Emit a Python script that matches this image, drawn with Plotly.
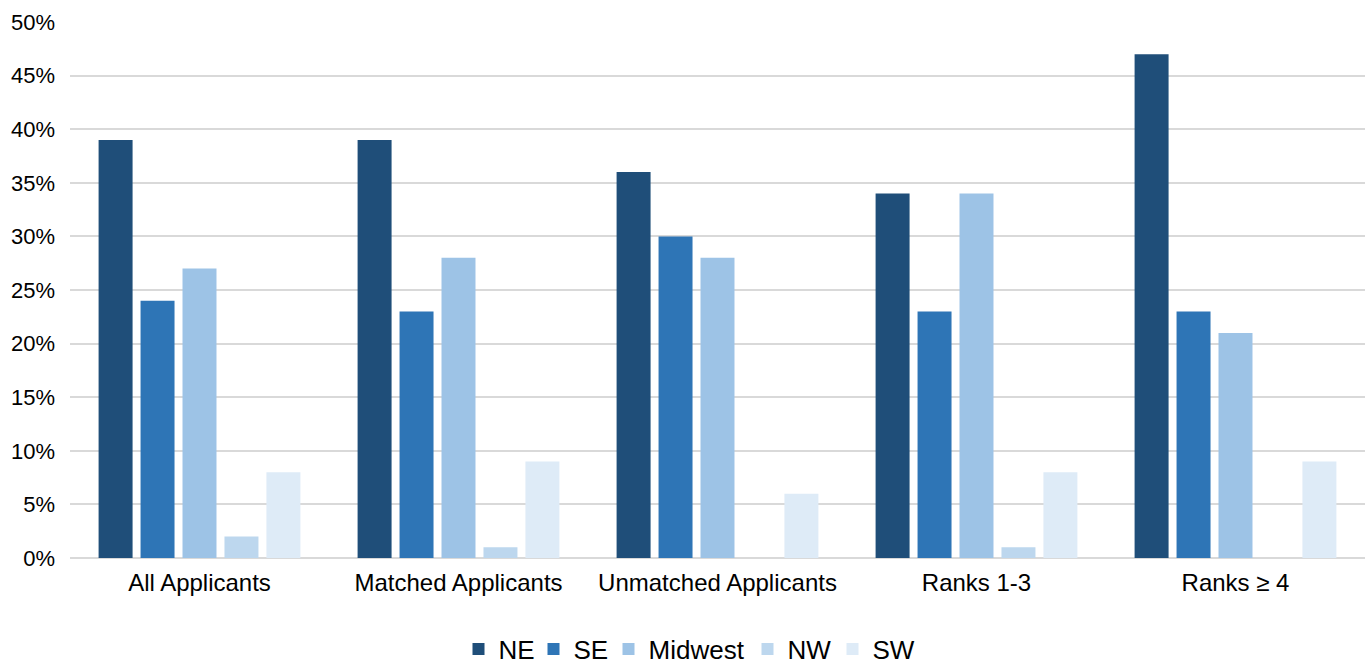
import plotly.graph_objects as go

categories = ["All Applicants", "Matched Applicants", "Unmatched Applicants", "Ranks 1-3", "Ranks ≥ 4"]
ne = [0.39, 0.39, 0.36, 0.34, 0.47]
se = [0.24, 0.23, 0.30, 0.23, 0.23]
midwest = [0.27, 0.28, 0.28, 0.34, 0.21]
nw = [0.02, 0.01, 0.00, 0.01, 0.00]
sw = [0.08, 0.09, 0.06, 0.08, 0.09]

# name, values, colour, legend entry width (px)
series = [
    ("NE", ne, "#1F4E79", 30),
    ("SE", se, "#2E75B6", 30),
    ("Midwest", midwest, "#9DC3E6", 94),
    ("NW", nw, "#BDD7EE", 40),
    ("SW", sw, "#DEEBF7", 44),
]

fig = go.Figure()
for name, vals, color, lw in series:
    fig.add_trace(go.Bar(x=categories, y=vals, name=name, marker_color=color,
                         marker_line_width=0, legendwidth=lw))

W, H = 1370, 665
plot_left, plot_right = 70, 1365
plot_top, plot_bottom = 22, 558
plot_w = plot_right - plot_left
plot_h = plot_bottom - plot_top

font_family = "Liberation Sans, Arial, sans-serif"
fig.update_layout(
    width=W, height=H,
    margin=dict(l=plot_left, r=W - plot_right, t=plot_top, b=H - plot_bottom,
                autoexpand=False),
    plot_bgcolor="white", paper_bgcolor="white",
    barmode="group", bargap=0.19, bargroupgap=0.19,
    font=dict(family=font_family, color="#000000", size=22),
    showlegend=True,
    legend=dict(orientation="h", x=(690 - plot_left) / plot_w, xanchor="center",
                y=-(649 - plot_bottom) / plot_h, yanchor="middle",
                font=dict(size=26), itemwidth=30, traceorder="normal"),
)
fig.update_yaxes(range=[0, 0.5], dtick=0.05, tickformat=".0%", showgrid=True,
                 gridcolor="#D9D9D9", gridwidth=1.5, zeroline=True, zerolinecolor="#D9D9D9",
                 zerolinewidth=1.5, showline=False, ticks="", ticklabelstandoff=14,
                 tickfont=dict(size=22), automargin=False)
fig.update_xaxes(showline=False, ticks="", tickfont=dict(size=24), ticklabelstandoff=8,
                 automargin=False)

fig.write_html("out.html")
